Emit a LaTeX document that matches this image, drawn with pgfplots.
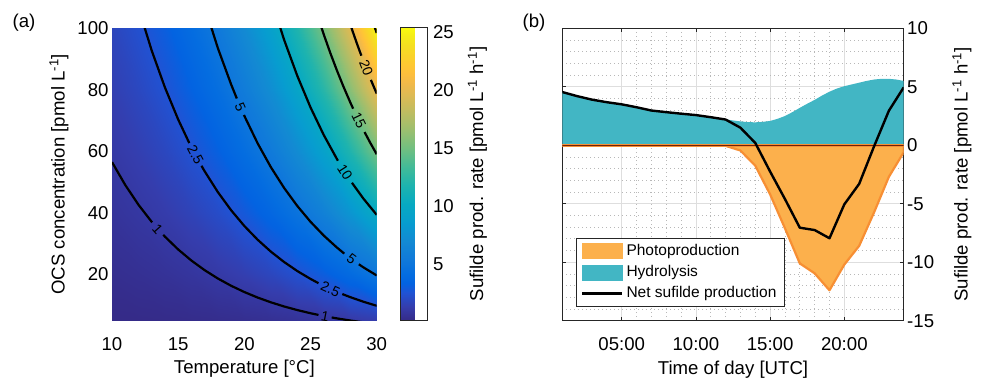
\documentclass[border=0pt]{standalone}
\usepackage{fontspec}
\setmainfont{Liberation Sans}
\usepackage{pgfplots}
\pgfplotsset{compat=1.18}
\definecolor{hyd}{RGB}{66,182,196}
\definecolor{pho}{RGB}{252,176,76}
\definecolor{phoedge}{RGB}{247,143,52}
\definecolor{zeroline}{RGB}{110,35,10}
\definecolor{axgray}{RGB}{38,38,38}
\newcommand\fs{\fontsize{18.6}{22}\selectfont}
\newcommand\lfs{\fontsize{15.5}{18}\selectfont}
\newcommand\cfs{\fontsize{14}{16}\selectfont}
\pgfplotsset{
  /pgf/number format/assume math mode=true,
  colormap={parula}{
    rgb(0pt)=(0.2081,0.1663,0.5292)
    rgb(3pt)=(0.2081,0.2386,0.6771)
    rgb(6pt)=(0.1253,0.3242,0.8303)
    rgb(8pt)=(0.0117,0.3875,0.8820)
    rgb(10pt)=(0.0165,0.4266,0.8786)
    rgb(13pt)=(0.0629,0.4737,0.8554)
    rgb(17pt)=(0.0749,0.5375,0.8263)
    rgb(21pt)=(0.0265,0.6137,0.8135)
    rgb(25pt)=(0.0267,0.6642,0.7607)
    rgb(29pt)=(0.1133,0.7015,0.6859)
    rgb(33pt)=(0.2586,0.7317,0.5954)
    rgb(37pt)=(0.4420,0.7481,0.5033)
    rgb(41pt)=(0.6099,0.7473,0.4337)
    rgb(45pt)=(0.7525,0.7384,0.3768)
    rgb(49pt)=(0.8824,0.7274,0.3217)
    rgb(51pt)=(0.9450,0.7261,0.2886)
    rgb(53pt)=(0.9938,0.7455,0.2403)
    rgb(55pt)=(0.9955,0.7861,0.1967)
    rgb(57pt)=(0.9789,0.8271,0.1633)
    rgb(59pt)=(0.9626,0.8705,0.1309)
    rgb(61pt)=(0.9598,0.9218,0.0948)
    rgb(63pt)=(0.9763,0.9831,0.0538)
  },
}
\begin{document}
\begin{tikzpicture}
\useasboundingbox (0,0) rectangle (984pt,390pt);
\node[anchor=base, font=\fs] at (24pt,362.7pt) {(a)};
\node[anchor=base, font=\fs] at (534pt,362.7pt) {(b)};
% ---------------- panel (a)
\begin{axis}[
  at={(112pt,69.3pt)}, anchor=south west,
  scale only axis, width=264.7pt, height=292.7pt,
  xmin=10, xmax=30, ymin=5, ymax=100,
  xtick={10,15,20,25,30}, ytick={20,40,60,80,100},
  axis line style={draw=none}, major tick style={draw=none}, minor tick style={draw=none},
  tick label style={font=\fs},
  xticklabel style={yshift=-13pt},
  xlabel={Temperature [°C]},
  ylabel={OCS concentration [pmol L\textsuperscript{-1}]},
  every axis x label/.style={at={(axis description cs:0.5,-0.180)}, anchor=base, font=\fs},
  every axis y label/.style={at={(axis description cs:-0.1787,0.5)}, rotate=90, anchor=base, font=\fs},
  colormap name=parula,
  colorbar,
  colorbar style={
    at={(parent axis.north east)}, anchor=north west, xshift=15.3pt, yshift=0.7pt,
    scale only axis, width=27pt, height=293.4pt,
    ytick={5,10,15,20,25}, yticklabel pos=right, ytick pos=right,
    tick align=outside, major tick length=3pt,
    tick style={axgray, line width=0.8pt},
    axis line style={axgray, line width=0.8pt},
    yticklabel style={font=\fs, xshift=-1pt},
    ylabel={Sufilde prod. rate [pmol L\textsuperscript{-1} h\textsuperscript{-1}]},
    every axis y label/.style={at={(axis description cs:3.06,0.5)}, rotate=90, anchor=base, font=\fs},
  },
]
\addplot[surf, shader=interp, mesh/cols=11, point meta=explicit] table[x=T, y=O, meta=z] {
T O z
10 5 0.0885
12 5 0.1173
14 5 0.1549
16 5 0.2039
18 5 0.2675
20 5 0.3498
22 5 0.4558
24 5 0.5919
26 5 0.7661
28 5 0.9883
30 5 1.2706
10 20 0.354
12 20 0.4692
14 20 0.6196
16 20 0.8156
18 20 1.070
20 20 1.399
22 20 1.823
24 20 2.3674
26 20 3.0642
28 20 3.953
30 20 5.0822
10 40 0.708
12 40 0.9384
14 40 1.2392
16 40 1.6312
18 40 2.140
20 40 2.798
22 40 3.646
24 40 4.7348
26 40 6.1284
28 40 7.906
30 40 10.1644
10 60 1.062
12 60 1.4076
14 60 1.8588
16 60 2.4468
18 60 3.210
20 60 4.197
22 60 5.469
24 60 7.1022
26 60 9.1926
28 60 11.859
30 60 15.2466
10 80 1.416
12 80 1.8768
14 80 2.4784
16 80 3.2624
18 80 4.280
20 80 5.596
22 80 7.292
24 80 9.4696
26 80 12.2568
28 80 15.812
30 80 20.3288
10 100 1.770
12 100 2.346
14 100 3.098
16 100 4.078
18 100 5.350
20 100 6.995
22 100 9.115
24 100 11.837
26 100 15.321
28 100 19.765
30 100 25.411
};
% contour lines (level 1)
\addplot[black, line width=2.2pt, line join=round] coordinates {(10,56.49) (11,49.05) (12,42.63) (13,37.08) (13.03,36.92)};
\addplot[black, line width=2.2pt, line join=round] coordinates {(13.87,32.86) (14,32.28) (15,28.12) (16,24.52) (17,21.40) (18,18.69) (19,16.34) (20,14.30) (21,12.52) (22,10.97) (23,9.623) (24,8.448) (25,7.422) (25.6,6.870)};
\addplot[black, line width=2.2pt, line join=round] coordinates {(26.6,6.045) (27,5.744) (28,5.060) (29,4.460)};
% level 2.5
\addplot[black, line width=2.2pt, line join=round] coordinates {(11,122.6) (12,106.57) (13,92.69) (14,80.69) (15,70.31) (15.84,62.65)};
\addplot[black, line width=2.2pt, line join=round] coordinates {(16.76,55.28) (17,53.50) (18,46.73) (19,40.85) (20,35.74) (21,31.30) (22,27.43) (23,24.06) (24,21.12) (25,18.56) (25.6,17.18)};
\addplot[black, line width=2.2pt, line join=round] coordinates {(27.4,13.65) (28,12.65) (29,11.15) (30,9.839)};
% level 5
\addplot[black, line width=2.2pt, line join=round] coordinates {(16,122.6) (17,107.0) (18,93.46) (19,81.70) (19.43,77.13)};
\addplot[black, line width=2.2pt, line join=round] coordinates {(19.97,71.77) (20,71.48) (21,62.60) (22,54.86) (23,48.12) (24,42.24) (25,37.11) (26,32.63) (27,28.72) (27.55,26.78)};
\addplot[black, line width=2.2pt, line join=round] coordinates {(28.65,23.31) (29,22.30) (30,19.68)};
% level 10
\addplot[black, line width=2.2pt, line join=round] coordinates {(21,125.2) (22,109.71) (23,96.23) (24,84.48) (25,74.22) (26,65.27) (27,57.44) (27.07,56.93)};
\addplot[black, line width=2.2pt, line join=round] coordinates {(28.13,49.77) (29,44.60) (30,39.35)};
% level 15
\addplot[black, line width=2.2pt, line join=round] coordinates {(24,126.7) (24.5,118.8) (25,111.33) (25.5,104.4) (26,97.90) (26.5,91.83) (27,86.16) (27.5,80.86) (28,75.89) (28.22,73.82)};
\addplot[black, line width=2.2pt, line join=round] coordinates {(29.08,66.24) (29.5,62.84) (30,59.03)};
% level 20
\addplot[black, line width=2.2pt, line join=round] coordinates {(27,114.88) (27.5,107.8) (28,101.19) (28.5,95.02) (28.84,91.02)};
\addplot[black, line width=2.2pt, line join=round] coordinates {(29.56,83.16) (30,78.71)};
% level 25
\addplot[black, line width=2.2pt, line join=round] coordinates {(29.7,102.1) (30,98.39)};
% contour labels
\node[font=\cfs, rotate=-48.4, inner sep=0pt] at (axis cs:13.45,34.84) {1};
\node[font=\cfs, rotate=-10.9, inner sep=0pt] at (axis cs:26.1,6.44) {1};
\node[font=\cfs, rotate=-61.9, inner sep=0pt] at (axis cs:16.3,58.85) {2.5};
\node[font=\cfs, rotate=-24.5, inner sep=0pt] at (axis cs:26.5,15.31) {2.5};
\node[font=\cfs, rotate=-66.6, inner sep=0pt] at (axis cs:19.7,74.4) {5};
\node[font=\cfs, rotate=-36.3, inner sep=0pt] at (axis cs:28.1,24.98) {5};
\node[font=\cfs, rotate=-57.5, inner sep=0pt] at (axis cs:27.6,53.22) {10};
\node[font=\cfs, rotate=-64, inner sep=0pt] at (axis cs:28.65,69.92) {15};
\node[font=\cfs, rotate=-68.5, inner sep=0pt] at (axis cs:29.2,87.0) {20};
\end{axis}
% ---------------- panel (b)
\begin{axis}[
  at={(562.3pt,69.3pt)}, anchor=south west,
  scale only axis, width=341.4pt, height=292.4pt,
  xmin=1, xmax=24, ymin=-15, ymax=10,
  xtick={5,10,15,20}, xticklabels={05:00,10:00,15:00,20:00},
  ytick={-15,-10,-5,0,5,10}, yticklabels={-15,-10,-5,0,5,10},
  yticklabel pos=right,
  minor x tick num=4, minor y tick num=4,
  grid=both,
  major grid style={draw=black!13, line width=0.8pt},
  minor grid style={draw=black!28, line width=0.8pt, dash pattern=on 1pt off 3pt},
  tick align=inside, major tick length=4pt, minor tick length=0pt,
  axis line style={axgray, line width=0.8pt},
  major tick style={axgray, line width=0.8pt},
  tick label style={font=\fs},
  xticklabel style={yshift=-13pt},
  xlabel={Time of day [UTC]},
  ylabel={Sufilde prod. rate [pmol L\textsuperscript{-1} h\textsuperscript{-1}]},
  every axis x label/.style={at={(axis description cs:0.5,-0.1835)}, anchor=base, font=\fs},
  every axis y label/.style={at={(axis description cs:1.1869,0.5)}, rotate=90, anchor=base, font=\fs},
  legend style={at={(axis description cs:0,0)}, anchor=south west, xshift=13.4pt, yshift=14pt,
    draw=axgray, line width=0.8pt, fill=white, font=\lfs, inner xsep=5pt, inner ysep=2pt,
    row sep=0pt,
    nodes={inner xsep=3pt, inner ysep=3.3pt, text height=11.3pt, text depth=3.3pt}},
  legend cell align=left,
]
\addlegendimage{legend image code/.code={\fill[pho] (0pt,-7.5pt) rectangle (40pt,7.5pt);}}
\addlegendentry{Photoproduction}
\addlegendimage{legend image code/.code={\fill[hyd] (0pt,-7.5pt) rectangle (40pt,7.5pt);}}
\addlegendentry{Hydrolysis}
\addlegendimage{legend image code/.code={\draw[black, line width=2.4pt] (0pt,0pt) -- (40pt,0pt);}}
\addlegendentry{Net sufilde production}
% hydrolysis area
\addplot[fill=hyd, draw=none, forget plot] coordinates {
(1,0) (1,4.55) (2,4.2) (3,3.9) (4,3.68) (5,3.5) (6,3.25) (7,2.97) (8,2.83) (9,2.7) (10,2.58) (11,2.4) (12,2.22)
(12.5,2.12) (13,2.04) (13.5,1.98) (14,1.96) (14.5,2.0) (15,2.08) (15.5,2.26) (16,2.5) (16.5,2.83) (17,3.2)
(17.5,3.55) (18,3.88) (18.5,4.25) (19,4.58) (19.5,4.85) (20,5.05) (20.5,5.2) (21,5.35) (21.5,5.5) (22,5.62)
(22.5,5.68) (23,5.68) (23.5,5.62) (24,5.5) (24,0)};
% photoproduction area
\addplot[fill=pho, draw=phoedge, line width=2.2pt, line join=round, forget plot] coordinates {
(1,0) (11,0) (12,-0.05) (13,-0.45) (14,-1.75) (15,-4.2) (16,-7.1) (17,-10.1) (18,-10.95) (19,-12.4)
(20,-10.2) (21,-8.6) (22,-5.75) (23,-2.7) (24,-0.6) (24,0)};
\addplot[phoedge, line width=2.6pt, forget plot] coordinates {(1,0) (24,0)};
\addplot[zeroline, line width=0.8pt, forget plot] coordinates {(1,0) (24,0)};
% net production
\addplot[black, line width=2.4pt, line join=round, forget plot] coordinates {
(1,4.55) (2,4.2) (3,3.9) (4,3.68) (5,3.5) (6,3.25) (7,2.97) (8,2.83) (9,2.7) (10,2.58) (11,2.4) (12,2.2)
(13,1.5) (14,0.2) (15,-2.25) (16,-4.6) (17,-7.05) (18,-7.25) (19,-7.95) (20,-5.05) (21,-3.3) (22,-0.1)
(23,2.95) (24,4.95)};
\end{axis}
\end{tikzpicture}
\end{document}
